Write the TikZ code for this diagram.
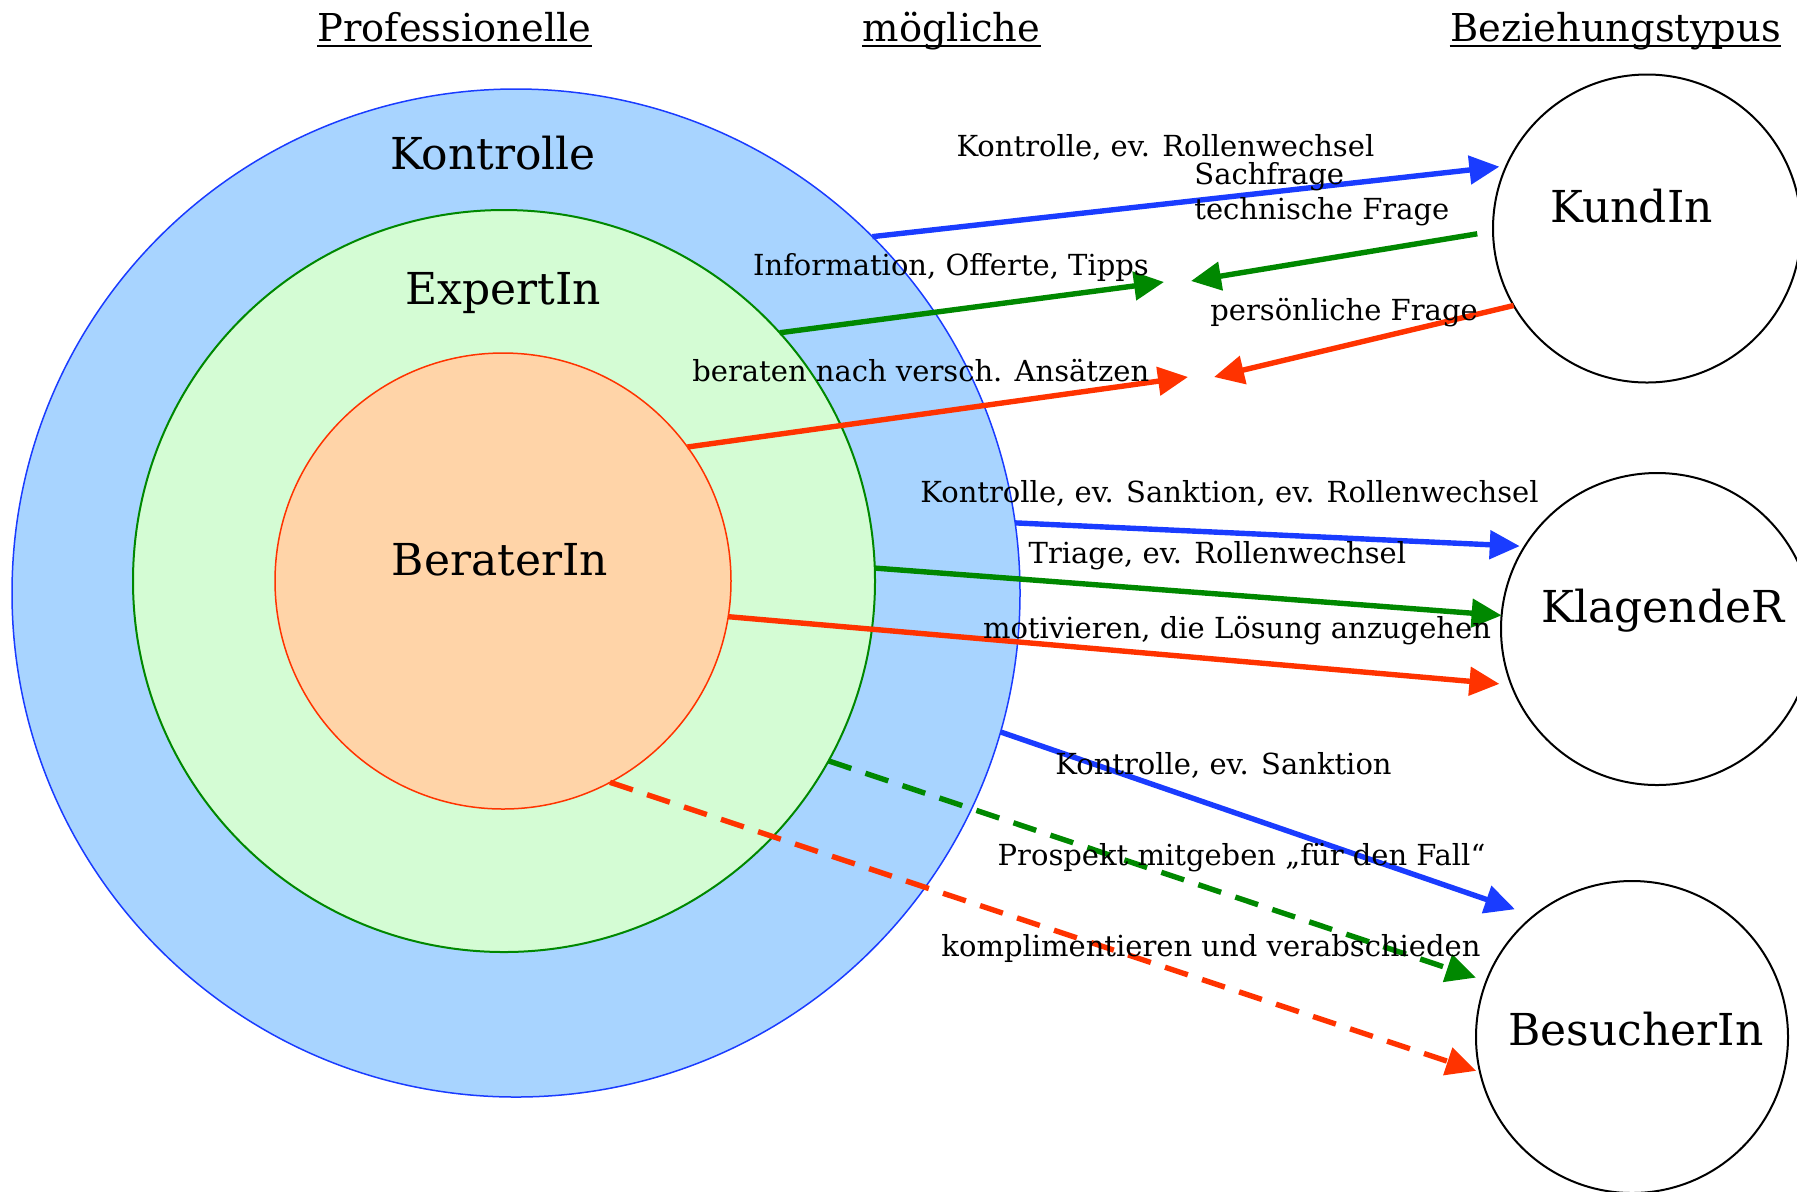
\documentclass[tikz,border=0pt]{standalone}
\usepackage{fontspec}
\setmainfont{DejaVu Serif}
\usetikzlibrary{arrows.meta}
\definecolor{bfill}{HTML}{A8D4FF}
\definecolor{bline}{HTML}{1A3CFF}
\definecolor{gfill}{HTML}{D4FCD4}
\definecolor{gline}{HTML}{008800}
\definecolor{ofill}{HTML}{FFD4A8}
\definecolor{rline}{HTML}{FF3300}
\begin{document}
\begin{tikzpicture}[x=0.5pt,y=-0.5pt,
  ring/.style={circle,inner sep=0pt,outer sep=0pt},
  typ/.style={circle,draw=black,line width=1pt,fill=white,inner sep=0pt,outer sep=0pt,minimum size=156pt},
  small/.style={inner sep=0pt,anchor=base,font=\fontsize{14.5}{17}\selectfont},
  big/.style={inner sep=0pt,anchor=base,font=\fontsize{22}{26}\selectfont},
  head/.style={inner sep=0pt,anchor=base,font=\fontsize{19.2}{23}\selectfont},
  conn/.style={line width=2.7pt,-{Triangle[length=15pt,width=14pt]}},
  dashedconn/.style={conn,dash pattern=on 12pt off 7.5pt},
]
\useasboundingbox (0,0) rectangle (1797,1191);
% rings
\node[ring,fill=bfill,draw=bline,line width=0.75pt,minimum size=504pt] (kontrolle) at (516,593) {};
\node[ring,fill=gfill,draw=gline,line width=1pt,minimum size=371pt] (expert) at (504,581) {};
\node[ring,fill=ofill,draw=rline,line width=0.75pt,minimum size=228pt] (berater) at (503,581) {};
% relation types
\node[typ,minimum size=154pt] (kunde) at (1647,228.5) {};
\node[typ] (klagend) at (1657,629) {};
\node[typ] (besucher) at (1632,1037) {};
% free ends in the middle
\coordinate (m1) at (1164,282);
\coordinate (m2) at (1191,281);
\coordinate (m3) at (1188,377);
\coordinate (m4) at (1214,377);
% connectors
\draw[conn,bline,shorten >=3.5pt] (kontrolle.45) -- (kunde.156);
\draw[conn,gline,shorten <=8pt] (kunde.181.5) -- (m2);
\draw[conn,rline] (kunde.210.6) -- (m4);
\draw[conn,gline] (expert.42) -- (m1);
\draw[conn,rline] (berater.36) -- (m3);
\draw[conn,bline,shorten >=2.5pt] (kontrolle.8) -- (klagend.148.3);
\draw[conn,gline] (expert.2) -- (klagend.175.7);
\draw[conn,rline,shorten >=6pt] (berater.-9) -- (klagend.201);
\draw[conn,bline,shorten >=10pt] (kontrolle.-16.7) -- (besucher.129.5);
\draw[dashedconn,gline,shorten >=5.5pt] (expert.-29) -- (besucher.159.2);
\draw[dashedconn,rline,shorten >=2pt] (berater.-62) -- (besucher.193.1);
% connector labels
\node[small] (l1) at (1165.4,156) {Kontrolle, ev. Rollenwechsel};
\node[small,anchor=base west] (l2) at (1194,184.3) {Sachfrage};
\node[small,anchor=base west] (l3) at (1194,219) {technische Frage};
\node[small] (l4) at (951,275) {Information, Offerte, Tipps};
\node[small] (l5) at (1344,320) {persönliche Frage};
\node[small] (l6) at (920.8,381) {beraten nach versch. Ansätzen};
\node[small] (l7) at (1229.5,502.3) {Kontrolle, ev. Sanktion, ev. Rollenwechsel};
\node[small] (l8) at (1217.4,563.3) {Triage, ev. Rollenwechsel};
\node[small] (l9) at (1237,638.3) {motivieren, die Lösung anzugehen};
\node[small] (l10) at (1223.5,774) {Kontrolle, ev. Sanktion};
\node[small] (l11) at (1241.5,865) {Prospekt mitgeben „für den Fall“};
\node[small] (l12) at (1211,956) {komplimentieren und verabschieden};
% big labels
\node[big] (t1) at (493,169) {Kontrolle};
\node[big] (t2) at (503.5,304.6) {ExpertIn};
\node[big] (t3) at (500,575) {BeraterIn};
\node[big] (t4) at (1631.5,222) {KundIn};
\node[big] (t5) at (1663,622.8) {KlagendeR};
\node[big] (t6) at (1636,1045) {BesucherIn};
% headings
\node[head] (h1) at (454.5,41.7) {Professionelle};
\node[head] (h2) at (951.5,41.7) {mögliche};
\node[head] (h3) at (1615.5,41.7) {Beziehungstypus};
\foreach \h in {h1,h2,h3}
  \draw[line width=1.1pt] ([yshift=-2.2pt]\h.base west) -- ([yshift=-2.2pt]\h.base east);
\end{tikzpicture}
\end{document}
